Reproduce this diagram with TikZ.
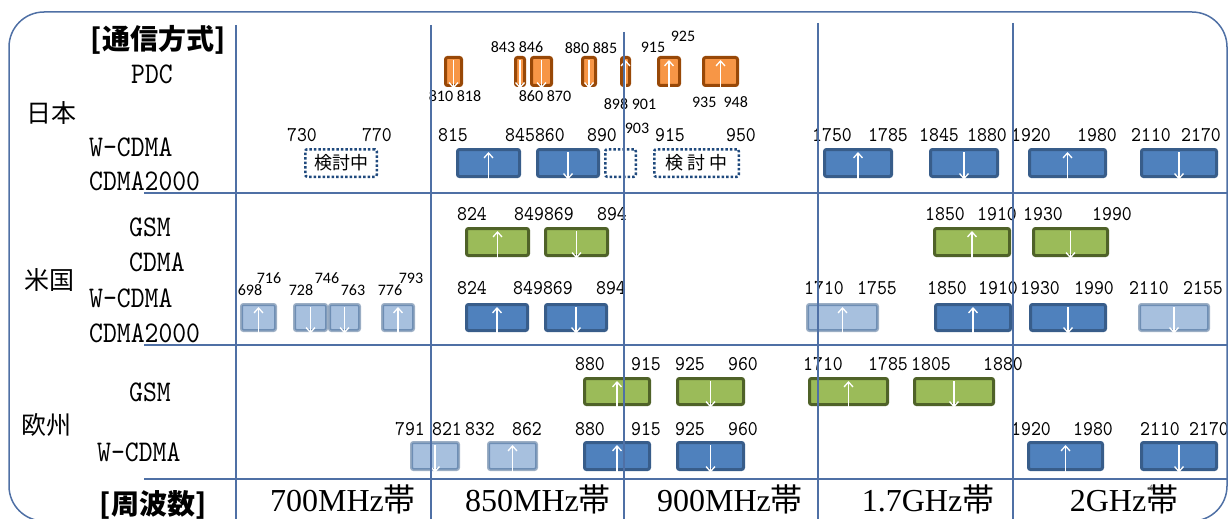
\documentclass[tikz,border=0pt]{standalone}
\usepackage{fontspec}
\setmainfont{Liberation Serif}
\newfontfamily\jpfont{Noto Sans CJK JP}
\newfontfamily\sysfont[Extension=.otf, FakeStretch=0.88]{lmmono10-regular}
\newfontfamily\numfont[Extension=.otf, FakeStretch=0.9]{lmmono10-regular}
\newfontfamily\calfont{Carlito}
\usepackage{xcolor}
\usetikzlibrary{arrows.meta, positioning}

\definecolor{gridline}{RGB}{79,112,165}
\definecolor{bandblue}{RGB}{79,129,189}
\definecolor{bandblueline}{RGB}{56,93,138}
\definecolor{bandgreen}{RGB}{155,187,89}
\definecolor{bandgreenline}{RGB}{79,98,40}
\definecolor{bandorange}{RGB}{247,150,70}
\definecolor{bandorangeline}{RGB}{152,72,7}
\definecolor{dotline}{RGB}{31,73,125}

\tikzset{
  band/.style={draw, line width=3pt, rounded corners=2pt, inner sep=0pt},
  blueband/.style={band, fill=bandblue, draw=bandblueline},
  lightband/.style={blueband, opacity=0.5},
  greenband/.style={band, fill=bandgreen, draw=bandgreenline},
  pdcband/.style={band, fill=bandorange, draw=bandorangeline},
  openband/.style={draw=dotline, line width=2.5pt, dash pattern=on 2.5pt off 2pt,
    rounded corners=2pt, inner sep=0pt, font=\fontsize{18}{18}\jpfont},
  dirarrow/.style={white, line width=1.3pt, -{Straight Barb[length=5pt,width=9pt]}},
  sysname/.style={font=\fontsize{30}{30}\sysfont, inner sep=0pt, anchor=west},
  freq/.style={font=\fontsize{21}{21}\numfont, inner sep=0pt},
  pdcfreq/.style={font=\fontsize{16}{16}\calfont, inner sep=0pt},
  region/.style={font=\fontsize{25}{25}\jpfont, inner sep=0pt},
  header/.style={font=\fontsize{28}{28}\jpfont\bfseries, inner sep=0pt},
  bandname/.style={font=\fontsize{32}{32}\selectfont, inner sep=0pt, anchor=base},
}

\begin{document}
\begin{tikzpicture}[x=1pt, y=-1pt]
  \useasboundingbox (0,0) rectangle (1232,519);
  \clip (0,0) rectangle (1232,519);

  % left column
  \node[header] (syshead) at (158,40) {[通信方式]};
  \node[header] (freqhead) at (153,505) {[周波数]};
  \node[region] (japan) at (52,113) {日本};
  \node[region] (usa) at (49,280) {米国};
  \node[region] (europe) at (46,425) {欧州};
  \node[sysname] (jpdc) at (131,74) {PDC};
  \node[sysname] (jwcdma) at (89,147) {W-CDMA};
  \node[sysname] (jcdma) at (89,181) {CDMA2000};
  \node[sysname] (ugsm) at (129,227) {GSM};
  \node[sysname] (ucdma) at (129,262) {CDMA};
  \node[sysname] (uwcdma) at (89,298) {W-CDMA};
  \node[sysname] (ucdmatwo) at (89,333) {CDMA2000};
  \node[sysname] (egsm) at (129,392) {GSM};
  \node[sysname] (ewcdma) at (97,452) {W-CDMA};

  % Japan PDC
  \foreach \n/\xa/\xb in {p1/444/463, p2/514/526, p3/530/553, p4/581/597, p5/620/631, p6/657/681, p7/702/739}
    \node[pdcband, minimum width={(\xb-\xa-3)*1pt}, minimum height=28pt] (\n) at ({(\xa+\xb)/2},71.5) {};
  \node[pdcfreq] (f843) at (517,47.5) {843 846};
  \node[pdcfreq] (f880) at (591,48.5) {880 885};
  \node[pdcfreq] (f915) at (653,47) {915};
  \node[pdcfreq] (f925) at (683,36) {925};
  \node[pdcfreq] (f810) at (455,96.5) {810 818};
  \node[pdcfreq] (f860) at (545,96.5) {860 870};
  \node[pdcfreq] (f898) at (630,104) {898 901};
  \node[pdcfreq] (f935) at (720,102) {935\ \ 948};

  % Japan W-CDMA / CDMA2000
  \foreach \n/\xa/\xb in {jw1/456/521, jw2/536/600, jw3/823/893, jw4/929/999, jw5/1028/1107, jw6/1140/1218}
    \node[blueband, minimum width={(\xb-\xa-3)*1pt}, minimum height=27pt] (\n) at ({(\xa+\xb)/2},163) {};
  \node[openband, minimum width=71.5pt, minimum height=27.5pt] (jwo1) at (341,163) {検討中};
  \node[openband, minimum width=30.5pt, minimum height=27.5pt] (jwo2) at (620.5,163) {};
  \node[openband, minimum width=84.5pt, minimum height=27.5pt] (jwo3) at (696.5,163) {検\hspace{4pt}討\hspace{4pt}中};
  \foreach \t/\x in {730/302, 770/377, 815/453, 845860/535, 890/602, 915/670, 950/741, 1750/832, 1785/888, 1845/939, 1880/987, 1920/1031, 1980/1097, 2110/1151, 2170/1201}
    \node[freq] (jf\t) at (\x,135) {\t};
  \node[pdcfreq] (jf903) at (637,128) {903};

  % USA GSM
  \foreach \n/\xa/\xb in {ug1/465/530, ug2/544/609, ug3/933/1011, ug4/1032/1109}
    \node[greenband, minimum width={(\xb-\xa-3)*1pt}, minimum height=27pt] (\n) at ({(\xa+\xb)/2},242) {};
  \foreach \t/\x in {824/472, 849869/544, 894/612, 1850/945, 1910/997, 1930/1043, 1990/1112}
    \node[freq] (ug\t) at (\x,214) {\t};

  % USA CDMA / W-CDMA / CDMA2000
  \foreach \n/\xa/\xb in {ul1/240/277, ul2/293/328, ul3/328/361, ul4/381/415, ul5/806/879, ul6/1138/1210}
    \node[lightband, minimum width={(\xb-\xa-3)*1pt}, minimum height=26pt] (\n) at ({(\xa+\xb)/2},317.5) {};
  \foreach \n/\xa/\xb in {uc1/465/529, uc2/544/608, uc3/934/1012, uc4/1029/1107}
    \node[blueband, minimum width={(\xb-\xa-3)*1pt}, minimum height=26pt] (\n) at ({(\xa+\xb)/2},317.5) {};
  \foreach \t/\x in {824/472, 849869/543, 894/611, 1710/824, 1755/877, 1850/947, 1910/998, 1930/1040, 1990/1094, 2110/1149, 2155/1203}
    \node[freq] (uc\t) at (\x,288) {\t};
  \foreach \t/\x/\y in {698/250/290, 716/269/278, 728/301/290, 746/327/278, 763/353/290, 776/390/290, 793/411/278}
    \node[pdcfreq] (ul\t) at (\x,\y) {\t};

  % Europe GSM
  \foreach \n/\xa/\xb in {eg1/583/651, eg2/676/745, eg3/808/889, eg4/913/995}
    \node[greenband, minimum width={(\xb-\xa-3)*1pt}, minimum height=26pt] (\n) at ({(\xa+\xb)/2},391.5) {};
  \foreach \t/\x in {880/590, 915/646, 925/690, 960/743, 1710/823, 1785/888, 1805/931, 1880/1003}
    \node[freq] (eg\t) at (\x,364) {\t};

  % Europe W-CDMA
  \foreach \n/\xa/\xb in {el1/410/460, el2/487/538}
    \node[lightband, minimum width={(\xb-\xa-3)*1pt}, minimum height=27pt] (\n) at ({(\xa+\xb)/2},456) {};
  \foreach \n/\xa/\xb in {ew1/583/651, ew2/676/745, ew3/1027/1104, ew4/1140/1218}
    \node[blueband, minimum width={(\xb-\xa-3)*1pt}, minimum height=27pt] (\n) at ({(\xa+\xb)/2},456) {};
  \foreach \t/\x in {791/410, 821/447, 832/480, 862/527, 880/590, 915/646, 925/690, 960/743, 1920/1031, 1980/1093, 2110/1160, 2170/1209}
    \node[freq] (ew\t) at (\x,429) {\t};

  % up and down links
  \foreach \b in {p5, p6, p7, jw1, jw3, jw5, ug1, ug3, uc1, uc3, ul1, ul4, ul5, eg1, eg3, ew1, ew3, el2}
    \draw[dirarrow] ([yshift=-4pt]\b.south) -- ([yshift=-4pt]\b.north);
  \foreach \b in {p1, p2, p3, p4, jw2, jw4, jw6, ug2, ug4, uc2, uc4, ul2, ul3, ul6, eg2, eg4, ew2, ew4, el1}
    \draw[dirarrow] ([yshift=-4pt]\b.north) -- ([yshift=-1.5pt]\b.south);

  % frequency bands
  \node[bandname] (b700) at (343,511) {700MHz{\jpfont 帯}};
  \node[bandname] (b850) at (538,511) {850MHz{\jpfont 帯}};
  \node[bandname] (b900) at (730,511) {900MHz{\jpfont 帯}};
  \node[bandname] (b17) at (928,511) {1.7GHz{\jpfont 帯}};
  \node[bandname] (b2) at (1124,511) {2GHz{\jpfont 帯}};
  \node[font=\fontsize{10}{10}\calfont, text=gray, inner sep=0pt] (pageno) at (1151,488) {4};

  % frame and grid
  \draw[gridline, line width=1.5pt, rounded corners=35pt] (9,12) rectangle (1227,521);
  \draw[gridline, line width=1.2pt] (144,193) -- (1227,193) (144,345) -- (1227,345) (144,479) -- (1227,479);
  \draw[gridline, line width=1.2pt] (236,25) -- (236,519) (431,25) -- (431,519) (624,32) -- (624,519)
    (818,23) -- (818,519) (1013,23) -- (1013,519);
\end{tikzpicture}
\end{document}
